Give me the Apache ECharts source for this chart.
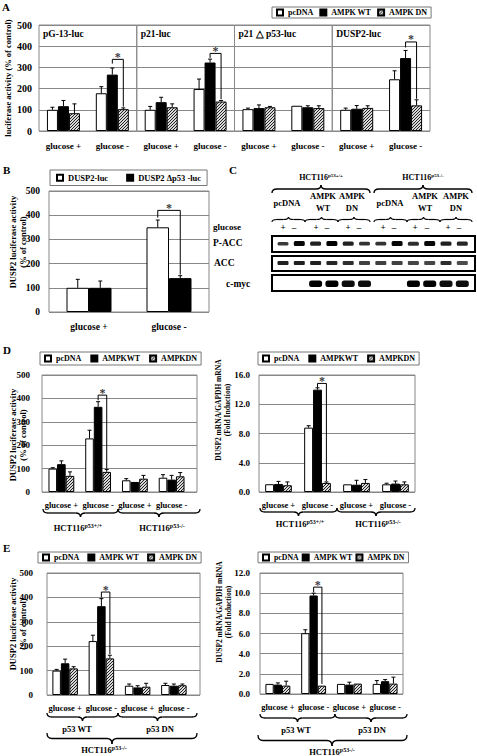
<!DOCTYPE html>
<html><head><meta charset="utf-8">
<script src="https://cdn.jsdelivr.net/npm/echarts@6/dist/echarts.min.js"></script>
<style>html,body{margin:0;padding:0;background:#fff}#c{width:477px;height:756px}</style>
</head><body><div id="c"></div>
<script>
const FF = '"Liberation Serif","Times New Roman",serif';

// ================= DATA =================
const twoCats = ['glucose +', 'glucose -'];
const fourCats = ['glucose +', 'glucose -', 'glucose +', 'glucose -'];

// ---- Panel A (luciferase activity, % of control) ----
const aTitles = ['pG-13-luc', 'p21-luc', 'p21 \u25B3 p53-luc', 'DUSP2-luc'];
const aNames = ['pcDNA', 'AMPK WT', 'AMPK DN'];
const aPcDNA    = [[100, 178], [100, 198], [103, 119], [100, 244]];
const aAmpkWT   = [[117, 266], [136, 323], [108, 112], [105, 344]];
const aAmpkDN   = [[84, 103],  [112, 139], [112, 108], [109, 121]];
const aPcDNAErr = [[112, 209], [116, 245], [108, 121], [108, 284]];
const aAmpkWTErr= [[144, 297], [159, 339], [123, 119], [120, 380]];
const aAmpkDNErr= [[128, 109], [128, 144], [116, 119], [119, 147]];
// [category, fromSeries, toSeries, top, leftLegBottom, rightLegBottom]
const aSig = [[[1, 1, 2, 338, 318, 115]], [[1, 1, 2, 366, 345, 150]], [], [[1, 1, 2, 420, 394, 152]]];

// ---- Panel B ----
const bNames = ['DUSP2-luc', 'DUSP2 \u0394p53 -luc'];
const bDusp2 = [100, 350];
const bDusp2Err = [135, 380];
const bDelta = [100, 140];
const bDeltaErr = [128, 150];
const bSig = [[1, 0, 1, 420, 390, 155]];

// ---- Panel C (western blot) ----
const cLines = ['HCT116', 'HCT116'];
const cLineSup = ['p53+/+', 'p53-/-'];
const cGroups = ['pcDNA', 'AMPK\nWT', 'AMPK\nDN', 'pcDNA', 'AMPK\nWT', 'AMPK\nDN'];
const cGlucose = ['+', '\u2013', '+', '\u2013', '+', '\u2013', '+', '\u2013', '+', '\u2013', '+', '\u2013'];
const cRows = ['P-ACC', 'ACC', 'c-myc'];
const cPAcc = [0.55, 0.95, 0.75, 1.0, 0.75, 0.6, 0.6, 0.95, 0.65, 0.95, 0.75, 0.7];
const cAcc  = [0.85, 0.85, 0.85, 0.8, 0.75, 0.6, 0.6, 0.6, 0.55, 0.55, 0.75, 0.5];
const cMyc  = [0, 0, 1, 1, 0.95, 0.95, 0, 0, 1, 1, 0.95, 0.95];

// ---- Panel D ----
const dNames = ['pcDNA', 'AMPKWT', 'AMPKDN'];
const dLucPcDNA = [100, 229, 50, 61];
const dLucWT    = [119, 364, 43, 53];
const dLucDN    = [69, 86, 57, 67];
const dLucPcDNAErr = [104, 264, 57, 74];
const dLucWTErr    = [133, 386, 43, 71];
const dLucDNErr    = [86, 96, 71, 83];
const dLucSig = [[1, 1, 2, 414, 392, 100]];
const dMrnaPcDNA = [1.06, 8.8, 1.05, 1.05];
const dMrnaWT    = [1.1, 14.0, 1.0, 1.15];
const dMrnaDN    = [0.92, 1.24, 1.24, 1.05];
const dMrnaPcDNAErr = [1.06, 9.06, 1.05, 1.2];
const dMrnaWTErr    = [1.45, 14.25, 1.6, 1.5];
const dMrnaDNErr    = [1.38, 1.38, 1.7, 1.38];
const dMrnaSig = [[1, 1, 2, 14.85, 14.3, 1.5]];
const dGroups = ['p53+/+', 'p53-/-'];

// ---- Panel E ----
const eNames = ['pcDNA', 'AMPK WT', 'AMPK DN'];
const eLucPcDNA = [100, 221, 38, 41];
const eLucWT    = [130, 364, 31, 38];
const eLucDN    = [109, 150, 34, 40];
const eLucPcDNAErr = [105, 245, 45, 48];
const eLucWTErr    = [147, 395, 38, 45];
const eLucDNErr    = [116, 163, 48, 45];
const eLucSig = [[1, 1, 2, 422, 400, 168]];
const eMrnaPcDNA = [1.0, 6.03, 1.0, 1.0];
const eMrnaWT    = [0.93, 9.77, 0.93, 1.27];
const eMrnaDN    = [0.83, 0.83, 1.03, 1.03];
const eMrnaPcDNAErr = [1.0, 6.37, 1.0, 1.33];
const eMrnaWTErr    = [1.1, 10.0, 1.17, 1.43];
const eMrnaDNErr    = [1.27, 0.9, 1.1, 1.67];
const eMrnaSig = [[1, 1, 2, 10.6, 10.1, 1.0]];
const eGroups = ['p53 WT', 'p53 DN'];
const eCell = 'p53-/-';

// ================= BUILD =================
const grids = [], xAxes = [], yAxes = [], series = [], legends = [], graphics = [];

function hatchImage() {
  const c = document.createElement('canvas'); c.width = 3; c.height = 3;
  const g = c.getContext('2d');
  g.fillStyle = '#d8d8d8'; g.fillRect(0, 0, 3, 3);
  g.fillStyle = '#222';
  for (let i = 0; i < 3; i++) g.fillRect(i, 2 - i, 1, 1);
  return c.toDataURL();
}
const HATCH = { image: hatchImage(), repeat: 'repeat' };

const STY = {
  white: { color: '#fff', borderColor: '#000', borderWidth: 1 },
  black: { color: '#000', borderColor: '#000', borderWidth: 1 },
  hatch: { color: HATCH, borderColor: '#000', borderWidth: 1 }
};

function yAxisCfg(gi, o, labels, split) {
  return { gridIndex: gi, type: 'value', min: 0, max: o.max, interval: o.interval,
    axisLine: { show: false }, axisTick: { show: false },
    splitLine: { show: split, lineStyle: { color: '#888', width: 1 } },
    axisLabel: { show: labels, margin: o.yMargin, fontFamily: FF, fontWeight: 'bold', fontSize: o.yFont, color: '#000',
                 formatter: o.fmt || (v => String(v)) } };
}

function addPanel(o) {
  let gi = grids.length;
  if (o.frame) {
    grids.push({ left: o.frame.left, top: o.top, width: o.frame.width, height: o.height, show: true,
                 borderColor: '#888', borderWidth: 1, backgroundColor: 'transparent' });
    xAxes.push({ gridIndex: gi, type: 'value', show: false, min: 0, max: 1 });
    yAxes.push(yAxisCfg(gi, o, o.showY !== false, true));
    gi = grids.length;
    grids.push({ left: o.left, top: o.top, width: o.width, height: o.height, show: false });
    yAxes.push(yAxisCfg(gi, o, false, false));
  } else {
    grids.push({ left: o.left, top: o.top, width: o.width, height: o.height, show: true,
                 borderColor: '#888', borderWidth: 1, backgroundColor: 'transparent' });
    yAxes.push(yAxisCfg(gi, o, o.showY !== false, true));
  }
  xAxes.push({ gridIndex: gi, type: 'category', data: o.cats,
    axisLine: { show: false }, axisTick: { show: false }, splitLine: { show: false },
    axisLabel: { show: true, interval: 0, margin: o.xMargin, fontFamily: FF, fontWeight: 'bold', fontSize: o.xFont, color: '#000' } });
  const n = o.vals.length;
  o.vals.forEach((arr, s) => {
    series.push({ type: 'bar', name: o.names[s], xAxisIndex: gi, yAxisIndex: gi, data: arr,
      barWidth: o.bw, barGap: '0%', itemStyle: o.styles[s], silent: true, animation: false, z: 2 });
  });
  const edata = [];
  o.vals.forEach((arr, s) => arr.forEach((v, c) => edata.push([c, s, v, o.errs[s][c]])));
  const bw = o.bw;
  series.push({ type: 'custom', xAxisIndex: gi, yAxisIndex: gi, silent: true, animation: false, z: 5,
    itemStyle: { color: '#000' }, encode: { x: 0, y: [2, 3] }, data: edata,
    renderItem: (p, api) => {
      const c = api.value(0), s = api.value(1), v = api.value(2), e = api.value(3);
      const a = api.coord([c, v]), b = api.coord([c, e]);
      const x = a[0] + (s - (n - 1) / 2) * bw;
      if (b[1] > a[1] - 0.8) return { type: 'group', children: [] };
      return { type: 'group', children: [
        { type: 'line', shape: { x1: x, y1: a[1], x2: x, y2: b[1] }, style: { stroke: '#000', lineWidth: 1 } },
        { type: 'line', shape: { x1: x - 2, y1: b[1], x2: x + 2, y2: b[1] }, style: { stroke: '#000', lineWidth: 1 } }
      ] };
    } });
  if (o.sig && o.sig.length) {
    // bracket lines
    series.push({ type: 'custom', xAxisIndex: gi, yAxisIndex: gi, silent: true, animation: false, z: 6,
      itemStyle: { color: '#000' }, encode: { x: 0, y: [3, 4, 5] }, data: o.sig,
      renderItem: (p, api) => {
        const c = api.value(0), f = api.value(1), t = api.value(2);
        const top = api.coord([c, api.value(3)]), lb = api.coord([c, api.value(4)]), rb = api.coord([c, api.value(5)]);
        const x1 = top[0] + (f - (n - 1) / 2) * bw, x2 = top[0] + (t - (n - 1) / 2) * bw;
        return { type: 'polyline', shape: { points: [[x1, lb[1]], [x1, top[1]], [x2, top[1]], [x2, rb[1]]] },
            style: { stroke: '#000', lineWidth: 1, fill: 'none' } };
      } });
    // significance stars (label of an invisible point at the bracket top)
    o.sig.forEach(sg => {
      const dx = ((sg[1] + sg[2]) / 2 - (n - 1) / 2) * bw;
      series.push({ type: 'scatter', xAxisIndex: gi, yAxisIndex: gi, silent: true, animation: false, z: 7,
        symbolSize: 1, itemStyle: { color: 'rgba(0,0,0,0)' },
        data: [[sg[0], sg[3]]],
        label: { show: true, position: 'top', distance: 0, offset: [dx, 4], formatter: '*',
                 color: '#000', fontFamily: FF, fontWeight: 'bold', fontSize: 12 } });
    });
  }
  return gi;
}

function txt(text, x, y, size, align) {
  graphics.push({ type: 'text', x: x, y: y, silent: true,
    style: { text: text, font: 'bold ' + size + 'px ' + FF, fill: '#000', textAlign: align || 'left', textVerticalAlign: 'middle' } });
}
function vtitle(text, x, y, size) {
  graphics.push({ type: 'text', x: x, y: y, rotation: Math.PI / 2, silent: true,
    style: { text: text, font: 'bold ' + size + 'px ' + FF, fill: '#000', textAlign: 'center', textVerticalAlign: 'middle', lineHeight: size + 2 } });
}
function supText(base, sup, x, y, size) {
  graphics.push({ type: 'text', x: x, y: y, silent: true,
    style: { text: '{a|' + base + '}{b|' + sup + '}', textAlign: 'center', textVerticalAlign: 'middle', fill: '#000',
      rich: { a: { font: 'bold ' + size + 'px ' + FF, fill: '#000' },
              b: { font: 'bold ' + Math.round(size * 0.65) + 'px ' + FF, fill: '#000', padding: [0, 0, size * 0.45, 0] } } } });
}
function brace(x1, x2, y, h, down, tipX, lw) {
  const d = down ? 1 : -1, xm = tipX == null ? (x1 + x2) / 2 : tipX;
  const r = Math.min(5, (x2 - x1) / 5), ym = y + d * h / 2, yt = y + d * h;
  const st = { fill: null, stroke: '#000', lineWidth: lw || 1.3 };
  const q = (ax, ay, cx, cy, bx, by) => ({ type: 'bezierCurve', silent: true, shape: { x1: ax, y1: ay, cpx1: cx, cpy1: cy, x2: bx, y2: by }, style: st });
  const l = (ax, ay, bx, by) => ({ type: 'line', silent: true, shape: { x1: ax, y1: ay, x2: bx, y2: by }, style: st });
  graphics.push({ type: 'group', silent: true, children: [
    q(x1, y, x1, ym, x1 + r, ym), l(x1 + r, ym, xm - r, ym), q(xm - r, ym, xm, ym, xm, yt),
    q(xm, yt, xm, ym, xm + r, ym), l(xm + r, ym, x2 - r, ym), q(x2 - r, ym, x2, ym, x2, y)
  ] });
}
function legend(names, left, top, gap, font, pad) {
  legends.push({ left: left, top: top, data: names, icon: 'rect', itemWidth: 6, itemHeight: 6, itemGap: gap,
    selectedMode: false, borderColor: '#777', borderWidth: 1, padding: pad,
    textStyle: { fontFamily: FF, fontWeight: 'bold', fontSize: font, color: '#000', lineHeight: font + 1 } });
}

// ---------- Panel A ----------
txt('A', 2, 7, 11);
const aW = 97.75;
for (let k = 0; k < 4; k++) {
  addPanel({ left: 39 + k * aW, top: 25, width: aW, height: 106, cats: twoCats, max: 500, interval: 100,
    showY: k === 0, yMargin: 7, yFont: 10, xMargin: 10, xFont: 9, bw: 11,
    names: aNames, styles: [STY.white, STY.black, STY.hatch],
    vals: [aPcDNA[k], aAmpkWT[k], aAmpkDN[k]], errs: [aPcDNAErr[k], aAmpkWTErr[k], aAmpkDNErr[k]], sig: aSig[k] });
  txt(aTitles[k], 43 + k * aW, 34, 9.5);
}
vtitle('luciferase activity (% of control)', 8, 78, 8.5);
legend(aNames, 272, 7, 6, 8, [1, 4, 1, 4]);

// ---------- Panel B ----------
txt('B', 3, 170, 11);
addPanel({ left: 49, top: 191, width: 160, height: 121, cats: twoCats, max: 500, interval: 100,
  yMargin: 9, yFont: 9.5, xMargin: 10, xFont: 9.5, bw: 22.5,
  names: bNames, styles: [STY.white, STY.black], vals: [bDusp2, bDelta], errs: [bDusp2Err, bDeltaErr], sig: bSig });
vtitle('DUSP2 luciferase activity\n(% of control)', 18, 242, 8.5);
legend(bNames, 50, 170, 18, 8.5, [3, 6, 3, 6]);

// ---------- Panel C ----------
txt('C', 229, 170, 11);
supText(cLines[0], cLineSup[0], 321, 177, 8);
supText(cLines[1], cLineSup[1], 423, 177, 8);
brace(272, 370, 193, 8, false, null, 1.4);
brace(374, 472, 193, 8, false, null, 1.4);
const grpX = [287, 323, 352, 390, 425, 456];
cGroups.forEach((g, i) => {
  graphics.push({ type: 'text', x: grpX[i], y: g.indexOf('\n') >= 0 ? 202 : 203, silent: true,
    style: { text: g, font: 'bold 8.5px ' + FF, fill: '#000', textAlign: 'center', textVerticalAlign: 'middle', lineHeight: 12 } });
});
[[272, 305], [305, 338], [338, 370], [374, 407], [407, 440], [440, 472]].forEach(s => brace(s[0], s[1], 222, 5, false, null, 1.2));
const signX = [283, 294, 316, 327, 348, 359, 383, 394, 415, 427, 448, 459];
cGlucose.forEach((g, i) => txt(g, signX[i], 227, 9, 'center'));
txt('glucose', 213, 227, 9);
txt(cRows[0], 213, 243, 9.5);
txt(cRows[1], 214, 263, 9.5);
txt(cRows[2], 226, 284, 9.5);
const boxes = [[236, 16], [256, 15], [275, 16]];
boxes.forEach(b => graphics.push({ type: 'rect', silent: true, shape: { x: 272, y: b[0], width: 203, height: b[1] },
  style: { fill: '#fff', stroke: '#000', lineWidth: 2 } }));
const laneX = i => 283 + i * 16.3;
cPAcc.forEach((v, i) => graphics.push({ type: 'rect', silent: true, shape: { x: laneX(i) - 5.5, y: 243 - v * 2, width: 11, height: 2 + v * 3, r: 1.5 },
  style: { fill: '#000', opacity: 0.5 + 0.5 * v } }));
cAcc.forEach((v, i) => graphics.push({ type: 'rect', silent: true, shape: { x: laneX(i) - 5.5, y: 261, width: 11, height: 4, r: 1 },
  style: { fill: '#000', opacity: 0.45 + 0.5 * v } }));
cMyc.forEach((v, i) => { if (v > 0) graphics.push({ type: 'rect', silent: true, shape: { x: laneX(i) - 6.5, y: 280.5, width: 13, height: 6.5, r: 2.5 },
  style: { fill: '#000', opacity: v } }); });

// ---------- Panel D ----------
txt('D', 3, 350, 11);
addPanel({ left: 43, top: 375, width: 147, height: 117, frame: { left: 42, width: 155 }, cats: fourCats, max: 500, interval: 100,
  yMargin: 12, yFont: 9, xMargin: 8, xFont: 8.5, bw: 8.6,
  names: dNames, styles: [STY.white, STY.black, STY.hatch],
  vals: [dLucPcDNA, dLucWT, dLucDN], errs: [dLucPcDNAErr, dLucWTErr, dLucDNErr], sig: dLucSig });
vtitle('DUSP2 luciferase activity\n(% of control)', 18, 435, 8.5);
legend(dNames, 40, 352, 9, 8, [2, 4, 2, 4]);
brace(43, 118, 509, 8, true);
brace(118, 200, 509, 8, true);
supText('HCT116', dGroups[0], 78, 528, 8.5);
supText('HCT116', dGroups[1], 162, 528, 8.5);

addPanel({ left: 259, top: 375, width: 156, height: 117, cats: fourCats, max: 16, interval: 4,
  fmt: v => v.toFixed(1), yMargin: 9, yFont: 9, xMargin: 8, xFont: 8.5, bw: 8.9,
  names: dNames, styles: [STY.white, STY.black, STY.hatch],
  vals: [dMrnaPcDNA, dMrnaWT, dMrnaDN], errs: [dMrnaPcDNAErr, dMrnaWTErr, dMrnaDNErr], sig: dMrnaSig });
vtitle('DUSP2 mRNA/GAPDH mRNA\n(Fold Induction)', 223, 410, 7.5);
legend(dNames, 258, 352, 9, 8, [2, 4, 2, 4]);
brace(260, 337, 508, 8, true);
brace(337, 415, 508, 8, true);
supText('HCT116', dGroups[0], 300, 524, 8.5);
supText('HCT116', dGroups[1], 378, 524, 8.5);

// ---------- Panel E ----------
txt('E', 3, 548, 11);
addPanel({ left: 47, top: 573, width: 145, height: 122, frame: { left: 47, width: 153 }, cats: fourCats, max: 500, interval: 100,
  yMargin: 14, yFont: 9, xMargin: 8, xFont: 8.5, bw: 8.5,
  names: eNames, styles: [STY.white, STY.black, STY.hatch],
  vals: [eLucPcDNA, eLucWT, eLucDN], errs: [eLucPcDNAErr, eLucWTErr, eLucDNErr], sig: eLucSig });
vtitle('DUSP2 luciferase activity\n(% of control)', 18, 624, 8.5);
legend(eNames, 38, 552, 8, 8, [1, 4, 1, 4]);
brace(47, 118, 713, 8, true);
brace(118, 197, 713, 8, true);
txt(eGroups[0], 77, 729, 8.5, 'center');
txt(eGroups[1], 160, 729, 8.5, 'center');
brace(47, 197, 733, 11, true, 112);
supText('HCT116', eCell, 104, 750, 8.5);

addPanel({ left: 260, top: 573, width: 143, height: 121, cats: fourCats, max: 12, interval: 2,
  fmt: v => v.toFixed(1), yMargin: 10, yFont: 9, xMargin: 8, xFont: 8.5, bw: 8.3,
  names: eNames, styles: [STY.white, STY.black, STY.hatch],
  vals: [eMrnaPcDNA, eMrnaWT, eMrnaDN], errs: [eMrnaPcDNAErr, eMrnaWTErr, eMrnaDNErr], sig: eMrnaSig });
vtitle('DUSP2 mRNA/GAPDH mRNA\n(Fold Induction)', 224, 612, 7.5);
legend(eNames, 258, 552, 3, 7.8, [1, 4, 1, 4]);
brace(260, 335, 714, 8, true);
brace(335, 407, 714, 8, true);
txt(eGroups[0], 296, 730, 8.5, 'center');
txt(eGroups[1], 372, 730, 8.5, 'center');
brace(258, 407, 735, 11, true, 332);
supText('HCT116', eCell, 332, 752, 8.5);

const chart = echarts.init(document.getElementById('c'), null, { renderer: 'svg' });
chart.setOption({
  animation: false,
  backgroundColor: '#fff',
  textStyle: { fontFamily: FF },
  grid: grids, xAxis: xAxes, yAxis: yAxes, series: series, legend: legends,
  graphic: { elements: graphics }
});
</script></body></html>
